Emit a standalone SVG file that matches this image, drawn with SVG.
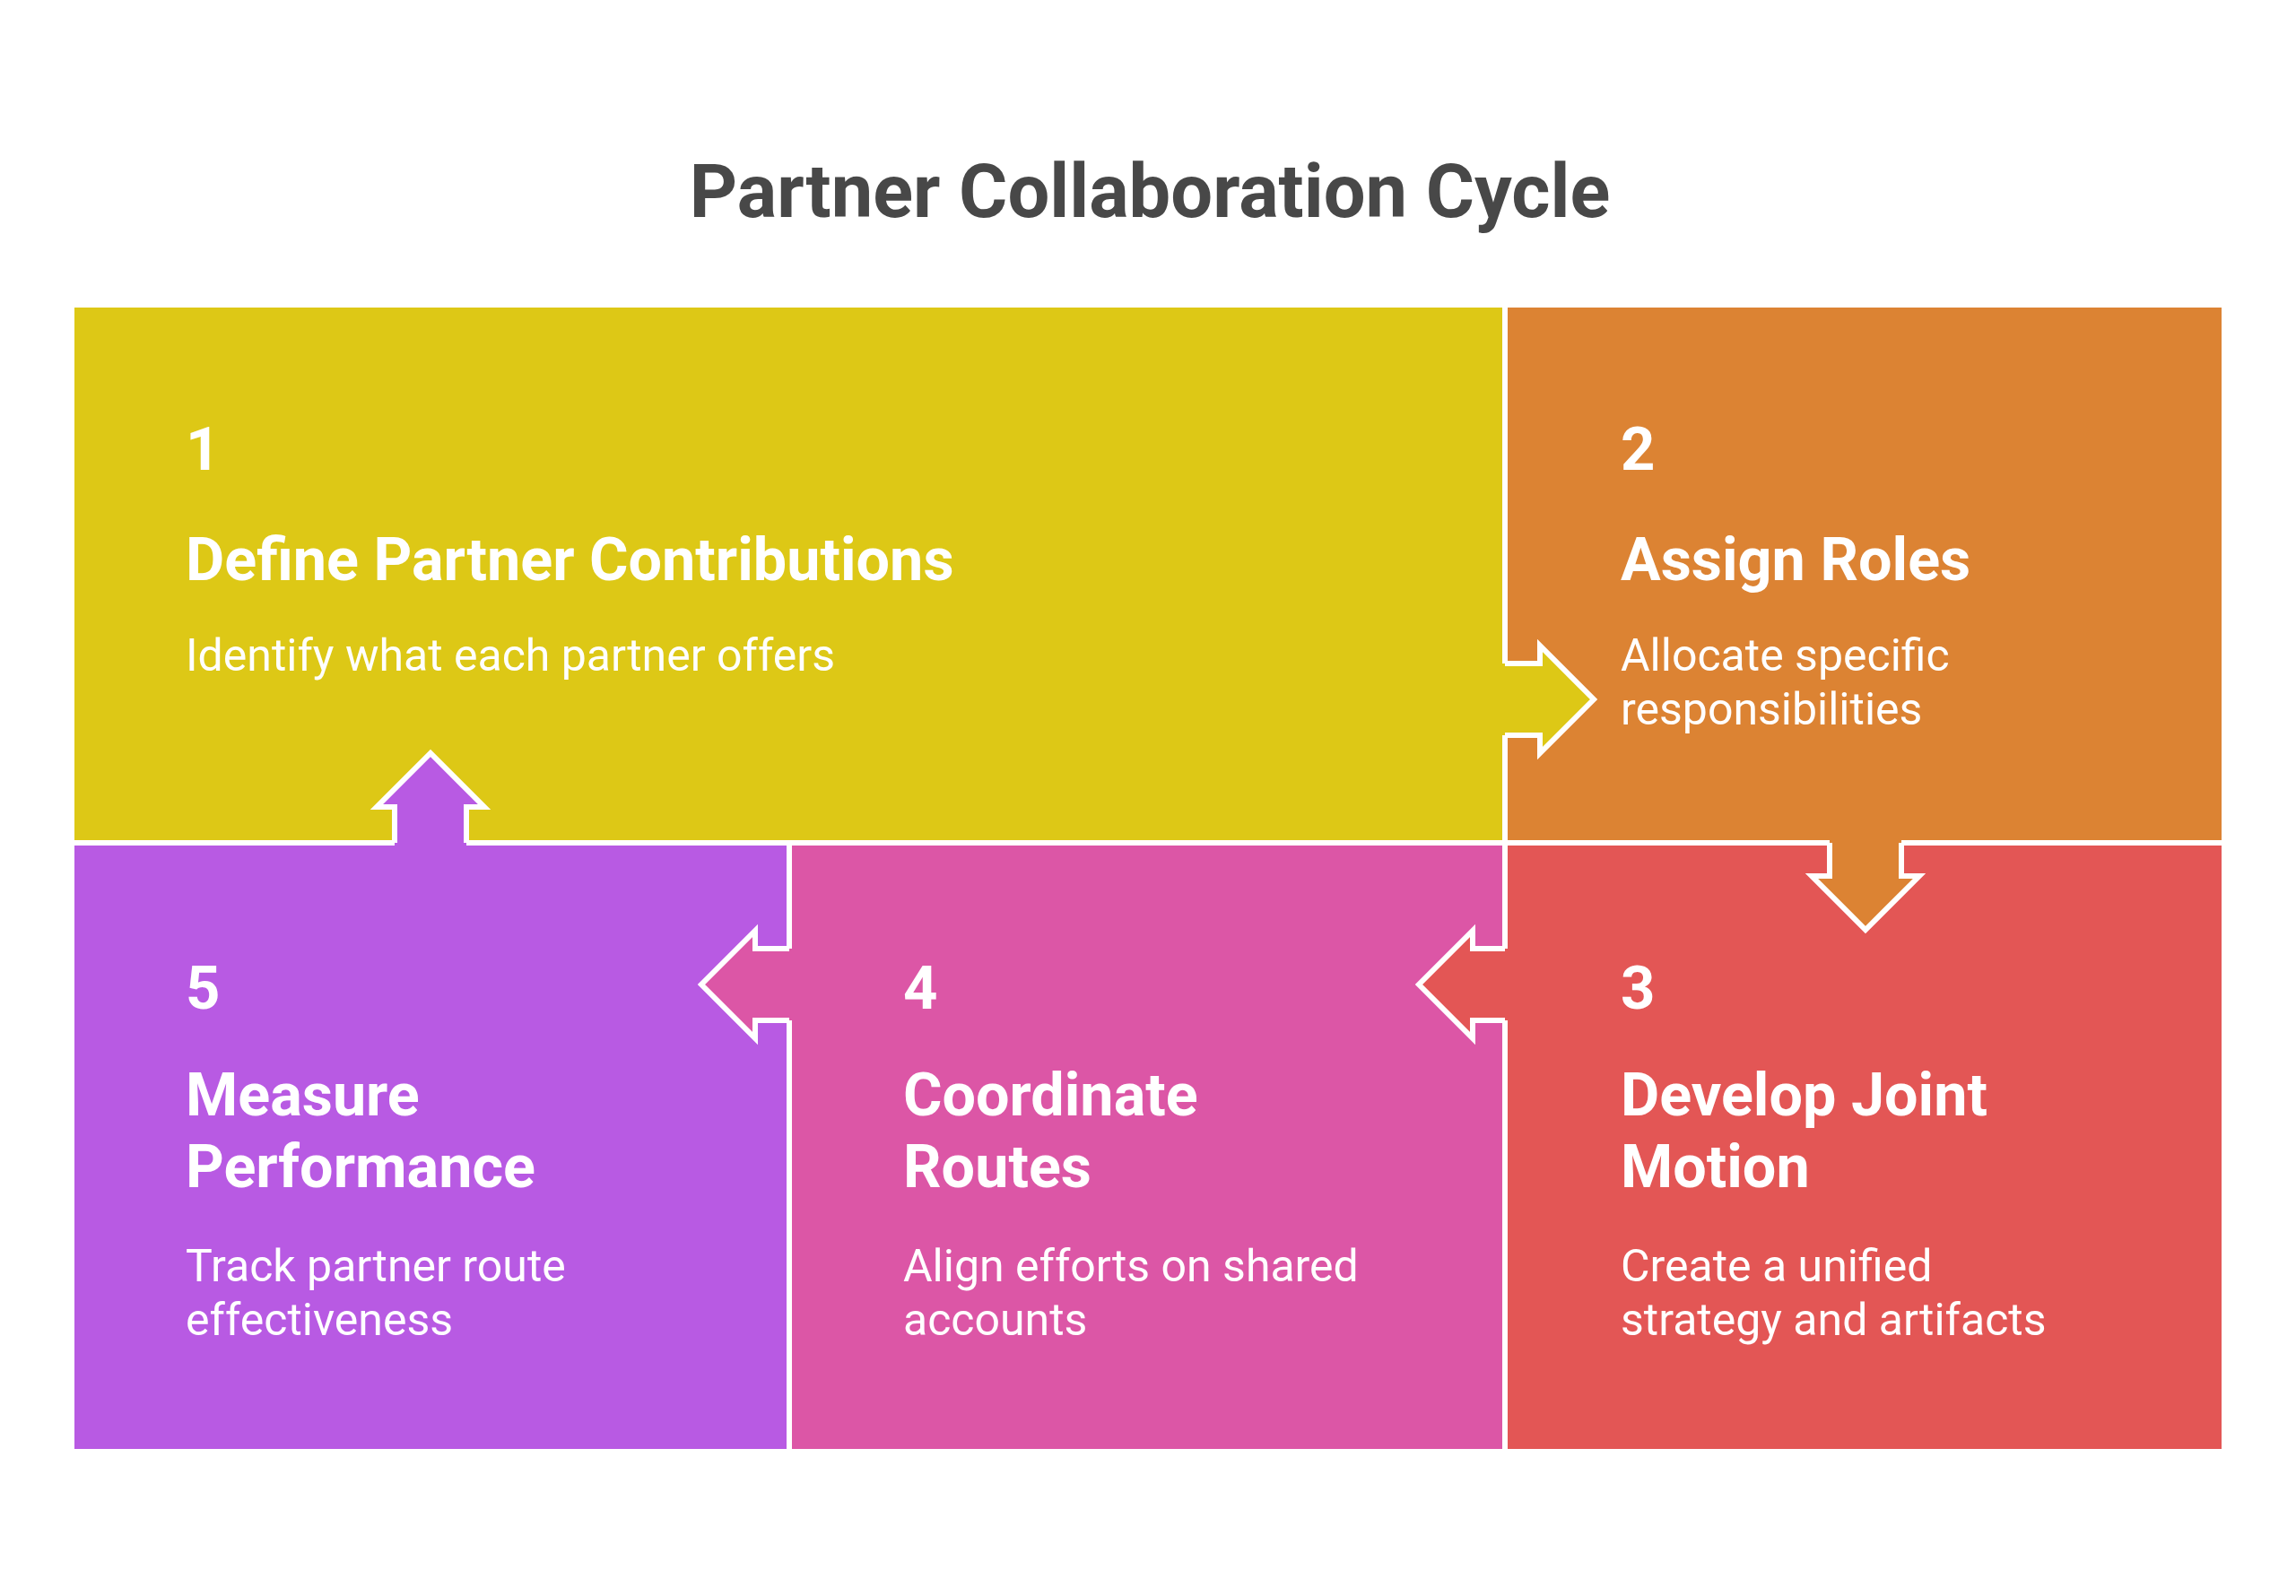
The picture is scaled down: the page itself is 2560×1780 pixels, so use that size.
<svg xmlns="http://www.w3.org/2000/svg" width="2560" height="1780" viewBox="0 0 2560 1780">
<style>
.title{font-family:Roboto,"Liberation Sans",sans-serif;font-weight:700;font-size:83px;fill:#484848}
.num{font-family:Roboto,"Liberation Sans",sans-serif;font-weight:700;font-size:67px;fill:#ffffff}
.head{font-family:Roboto,"Liberation Sans",sans-serif;font-weight:700;font-size:66.5px;fill:#ffffff}
.desc{font-family:Roboto,"Liberation Sans",sans-serif;font-weight:400;font-size:50px;fill:#ffffff}
.div{stroke:#ffffff;stroke-width:6;fill:none}
.arr{stroke:#ffffff;stroke-width:6;fill:none;stroke-linejoin:miter}
</style>
<rect x="0" y="0" width="2560" height="1780" fill="#ffffff"/>
<text class="title" x="1282" y="242" text-anchor="middle">Partner Collaboration Cycle</text>

<g id="node1">
<rect x="83" y="343" width="1595" height="597" fill="#DDC816"/>
<text class="num" x="207" y="524">1</text>
<text class="head" x="207" y="647">Define Partner Contributions</text>
<text class="desc" x="207" y="748">Identify what each partner offers</text>
</g>
<g id="node2">
<rect x="1678" y="343" width="799" height="597" fill="#DC8333"/>
<text class="num" x="1807" y="524">2</text>
<text class="head" x="1807" y="647">Assign Roles</text>
<text class="desc" x="1807" y="748">Allocate specific</text>
<text class="desc" x="1807" y="808">responsibilities</text>
</g>
<g id="node3">
<rect x="1678" y="940" width="799" height="676" fill="#E35655"/>
<text class="num" x="1807" y="1125">3</text>
<text class="head" x="1807" y="1244">Develop Joint</text>
<text class="head" x="1807" y="1324">Motion</text>
<text class="desc" x="1807" y="1429">Create a unified</text>
<text class="desc" x="1807" y="1489">strategy and artifacts</text>
</g>
<g id="node4">
<rect x="880" y="940" width="798" height="676" fill="#DC56A6"/>
<text class="num" x="1007" y="1125">4</text>
<text class="head" x="1007" y="1244">Coordinate</text>
<text class="head" x="1007" y="1324">Routes</text>
<text class="desc" x="1007" y="1429">Align efforts on shared</text>
<text class="desc" x="1007" y="1489">accounts</text>
</g>
<g id="node5">
<rect x="83" y="940" width="797" height="676" fill="#B85AE3"/>
<text class="num" x="207" y="1125">5</text>
<text class="head" x="207" y="1244">Measure</text>
<text class="head" x="207" y="1324">Performance</text>
<text class="desc" x="207" y="1429">Track partner route</text>
<text class="desc" x="207" y="1489">effectiveness</text>
</g>

<g id="dividers">
<line class="div" x1="1678" y1="343" x2="1678" y2="1616"/>
<line class="div" x1="880" y1="940" x2="880" y2="1616"/>
<line class="div" x1="83" y1="940" x2="2477" y2="940"/>
</g>

<g id="connectors">
<g id="c1-2">
<path d="M1673,740 H1717 V720 L1777,780 L1717,840 V820 H1673 Z" fill="#DDC816"/>
<path class="arr" d="M1678,740 H1717 V720 L1777,780 L1717,840 V820 H1678"/>
</g>
<g id="c2-3">
<path d="M2040,935 V977 H2020 L2080,1037 L2140,977 H2120 V935 Z" fill="#DC8333"/>
<path class="arr" d="M2040,940 V977 H2020 L2080,1037 L2140,977 H2120 V940"/>
</g>
<g id="c3-4">
<path d="M1683,1058 H1642 V1038 L1582,1098 L1642,1158 V1138 H1683 Z" fill="#E35655"/>
<path class="arr" d="M1678,1058 H1642 V1038 L1582,1098 L1642,1158 V1138 H1678"/>
</g>
<g id="c4-5">
<path d="M885,1058 H842 V1038 L782,1098 L842,1158 V1138 H885 Z" fill="#DC56A6"/>
<path class="arr" d="M880,1058 H842 V1038 L782,1098 L842,1158 V1138 H880"/>
</g>
<g id="c5-1">
<path d="M440,945 V900 H420 L480,840 L540,900 H520 V945 Z" fill="#B85AE3"/>
<path class="arr" d="M440,940 V900 H420 L480,840 L540,900 H520 V940"/>
</g>
</g>
</svg>
